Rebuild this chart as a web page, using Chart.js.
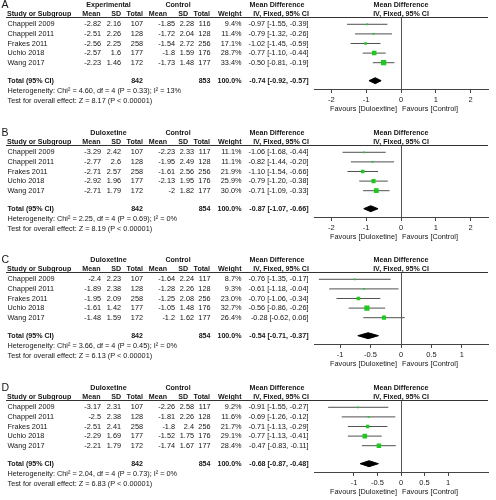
<!DOCTYPE html>
<html><head><meta charset="utf-8">
<script src="https://cdn.jsdelivr.net/npm/chart.js@4.4.1/dist/chart.umd.min.js"></script>
<style>
html,body{margin:0;padding:0;background:#fff;width:496px;height:500px;overflow:hidden;}
canvas{position:absolute;left:0;}
</style></head><body>
<canvas id="cA" width="496" height="117" style="top:0px"></canvas>
<canvas id="cB" width="496" height="117" style="top:128px"></canvas>
<canvas id="cC" width="496" height="117" style="top:255px"></canvas>
<canvas id="cD" width="496" height="117" style="top:383px"></canvas>
<script>
// ---------- DATA ----------
const studies = ['Chappell 2009','Chappell 2011','Frakes 2011','Uchio 2018','Wang 2017'];
const ticksAB = [-2,-1,0,1,2];
const ticksCD = [-1,-0.5,0,0.5,1];

// Panel A
const aExpMean = [-2.82,-2.51,-2.56,-2.57,-2.23];
const aExpSD   = [2.16,2.26,2.25,1.6,1.46];
const aExpN    = [107,128,258,177,172];
const aCtlMean = [-1.85,-1.72,-1.54,-1.8,-1.73];
const aCtlSD   = [2.28,2.04,2.72,1.59,1.48];
const aCtlN    = [116,128,256,176,177];
const aWeight  = [9.4,11.4,17.1,28.7,33.4];
const aMD      = [-0.97,-0.79,-1.02,-0.77,-0.50];
const aLo      = [-1.55,-1.32,-1.45,-1.10,-0.81];
const aHi      = [-0.39,-0.26,-0.59,-0.44,-0.19];
const aTotal   = [842,853,-0.74,-0.92,-0.57];
const aHet     = ['4.60','4','0.33','13'];
const aZ       = ['8.17','0.00001'];

// Panel B
const bExpMean = [-3.29,-2.77,-2.71,-2.92,-2.71];
const bExpSD   = [2.42,2.6,2.57,1.96,1.79];
const bExpN    = [107,128,258,177,172];
const bCtlMean = [-2.23,-1.95,-1.61,-2.13,-2];
const bCtlSD   = [2.33,2.49,2.56,1.95,1.82];
const bCtlN    = [117,128,256,176,177];
const bWeight  = [11.1,11.1,21.9,25.9,30.0];
const bMD      = [-1.06,-0.82,-1.10,-0.79,-0.71];
const bLo      = [-1.68,-1.44,-1.54,-1.20,-1.09];
const bHi      = [-0.44,-0.20,-0.66,-0.38,-0.33];
const bTotal   = [842,854,-0.87,-1.07,-0.66];
const bHet     = ['2.25','4','0.69','0'];
const bZ       = ['8.19','0.00001'];

// Panel C
const cExpMean = [-2.4,-1.89,-1.95,-1.61,-1.48];
const cExpSD   = [2.23,2.38,2.09,1.42,1.59];
const cExpN    = [107,128,258,177,172];
const cCtlMean = [-1.64,-1.28,-1.25,-1.05,-1.2];
const cCtlSD   = [2.24,2.26,2.08,1.48,1.62];
const cCtlN    = [117,128,256,176,177];
const cWeight  = [8.7,9.3,23.0,32.7,26.4];
const cMD      = [-0.76,-0.61,-0.70,-0.56,-0.28];
const cLo      = [-1.35,-1.18,-1.06,-0.86,-0.62];
const cHi      = [-0.17,-0.04,-0.34,-0.26,0.06];
const cTotal   = [842,854,-0.54,-0.71,-0.37];
const cHet     = ['3.66','4','0.45','0'];
const cZ       = ['6.13','0.00001'];

// Panel D
const dExpMean = [-3.17,-2.5,-2.51,-2.29,-2.21];
const dExpSD   = [2.31,2.38,2.41,1.69,1.79];
const dExpN    = [107,128,258,177,172];
const dCtlMean = [-2.26,-1.81,-1.8,-1.52,-1.74];
const dCtlSD   = [2.58,2.26,2.4,1.75,1.67];
const dCtlN    = [117,128,256,176,177];
const dWeight  = [9.2,11.6,21.7,29.1,28.4];
const dMD      = [-0.91,-0.69,-0.71,-0.77,-0.47];
const dLo      = [-1.55,-1.26,-1.13,-1.13,-0.83];
const dHi      = [-0.27,-0.12,-0.29,-0.41,-0.11];
const dTotal   = [842,854,-0.68,-0.87,-0.48];
const dHet     = ['2.04','4','0.73','0'];
const dZ       = ['6.83','0.00001'];

// ---------- RENDER ----------
const FONT = '"Liberation Sans", Arial, Helvetica, sans-serif';
const GREEN = '#1fc81f';
const TOTAL_ROW = 5.875;

function txt(ctx, s, x, y, align, bold, size) {
  ctx.font = (bold ? 'bold ' : '') + (size || (bold ? 7.1 : 7.3)) + 'px ' + FONT;
  ctx.textAlign = align; ctx.textBaseline = 'middle'; ctx.fillStyle = '#151515';
  ctx.fillText(s, x, y);
}
const f2 = v => v.toFixed(2);
const ciText = (m, l, h) => f2(m) + ' [' + f2(l) + ', ' + f2(h) + ']';

function makeTablePlugin(p) {
  return {
    id: 'table' + p.letter,
    afterDraw(chart) {
      const ctx = chart.ctx, ys = chart.scales.y, xs = chart.scales.x;
      ctx.save();
      txt(ctx, p.letter, 1.5, 5.5, 'left', false, 10.5);
      const h1 = 5, h2 = 14;
      txt(ctx, p.group, 108.5, h1, 'center', true);
      txt(ctx, 'Control', 178, h1, 'center', true);
      txt(ctx, 'Mean Difference', 277, h1, 'center', true);
      txt(ctx, 'Mean Difference', 401, h1, 'center', true);
      txt(ctx, 'Study or Subgroup', 7, h2, 'left', true);
      txt(ctx, 'Mean', 100.5, h2, 'right', true);
      txt(ctx, 'SD', 121, h2, 'right', true);
      txt(ctx, 'Total', 143, h2, 'right', true);
      txt(ctx, 'Mean', 167, h2, 'right', true);
      txt(ctx, 'SD', 188, h2, 'right', true);
      txt(ctx, 'Total', 210, h2, 'right', true);
      txt(ctx, 'Weight', 241.5, h2, 'right', true);
      txt(ctx, 'IV, Fixed, 95% CI', 281, h2, 'center', true);
      txt(ctx, 'IV, Fixed, 95% CI', 401, h2, 'center', true);
      ctx.strokeStyle = '#333'; ctx.lineWidth = 1;
      ctx.beginPath(); ctx.moveTo(6, 17.5); ctx.lineTo(488, 17.5); ctx.stroke();
      studies.forEach((s, i) => {
        const y = ys.getPixelForValue(i);
        txt(ctx, s, 7.5, y, 'left', false);
        txt(ctx, String(p.expMean[i]), 101, y, 'right', false);
        txt(ctx, String(p.expSD[i]), 121, y, 'right', false);
        txt(ctx, String(p.expN[i]), 143, y, 'right', false);
        txt(ctx, String(p.ctlMean[i]), 175, y, 'right', false);
        txt(ctx, String(p.ctlSD[i]), 194, y, 'right', false);
        txt(ctx, String(p.ctlN[i]), 210.5, y, 'right', false);
        txt(ctx, p.weight[i].toFixed(1) + '%', 241.5, y, 'right', false);
        txt(ctx, ciText(p.md[i], p.lo[i], p.hi[i]), 308.5, y, 'right', false);
      });
      const ty = ys.getPixelForValue(TOTAL_ROW);
      txt(ctx, 'Total (95% CI)', 7.5, ty, 'left', true);
      txt(ctx, String(p.total[0]), 143, ty, 'right', true);
      txt(ctx, String(p.total[1]), 210.5, ty, 'right', true);
      txt(ctx, '100.0%', 241.5, ty, 'right', true);
      txt(ctx, ciText(p.total[2], p.total[3], p.total[4]), 308.5, ty, 'right', true);
      txt(ctx, 'Heterogeneity: Chi\u00b2 = ' + p.het[0] + ', df = ' + p.het[1] + ' (P = ' + p.het[2] + '); I\u00b2 = ' + p.het[3] + '%', 7.5, 91.3, 'left', false);
      txt(ctx, 'Test for overall effect: Z = ' + p.z[0] + ' (P < ' + p.z[1] + ')', 7.5, 100.7, 'left', false);
      const x0 = xs.getPixelForValue(0);
      txt(ctx, p.favLeft, x0 - 4, 109, 'right', false);
      txt(ctx, 'Favours [Control]', x0 + 1, 109, 'left', false);
      ctx.restore();
    }
  };
}

function buildPanel(id, p) {
  const datasets = [];
  datasets.push({
    data: p.md.map((m, i) => ({ x: m, y: i })),
    pointStyle: 'rect',
    pointRadius: c => Math.max(1.7, p.weight[c.dataIndex] * 0.158) / 1.414,
    backgroundColor: GREEN, borderWidth: 0, order: 0
  });
  const T = TOTAL_ROW, dh = 0.31;
  datasets.push({
    data: [{x:p.total[3],y:T},{x:p.total[2],y:T-dh},{x:p.total[4],y:T},{x:p.total[2],y:T+dh},{x:p.total[3],y:T}],
    showLine: true, fill: 'shape', backgroundColor: '#000', borderColor: '#000',
    borderWidth: 1, pointRadius: 0, tension: 0, order: 0
  });
  p.md.forEach((m, i) => {
    datasets.push({
      data: [{ x: p.lo[i], y: i }, { x: p.hi[i], y: i }],
      showLine: true, borderColor: '#505050', borderWidth: 1, pointRadius: 0, order: 2
    });
  });
  new Chart(document.getElementById(id), {
    type: 'scatter',
    data: { datasets },
    options: {
      responsive: false, animation: false, maintainAspectRatio: false,
      layout: { padding: { left: 314, right: 8, top: 17.5, bottom: 0 } },
      plugins: { legend: { display: false }, tooltip: { enabled: false } },
      scales: {
        x: {
          type: 'linear', min: p.min, max: p.max,
          afterBuildTicks: s => { s.ticks = p.ticks.map(v => ({ value: v })); },
          afterFit: s => { s.height = 28; },
          grid: {
            color: c => (c.tick && c.tick.value === 0) ? '#555555' : 'rgba(0,0,0,0)',
            tickColor: '#444', tickLength: 4, lineWidth: 1
          },
          border: { display: true, color: '#444', width: 1 },
          ticks: { font: { family: FONT, size: 7.5 }, color: '#1a1a1a', padding: 2, maxRotation: 0, callback: v => String(v) }
        },
        y: { type: 'linear', reverse: true, min: -0.708, max: 6.74, display: false }
      }
    },
    plugins: [makeTablePlugin(p)]
  });
}

buildPanel('cA', { letter:'A', group:'Experimental', favLeft:'Favours [Duloextine]',
  expMean:aExpMean, expSD:aExpSD, expN:aExpN, ctlMean:aCtlMean, ctlSD:aCtlSD, ctlN:aCtlN,
  weight:aWeight, md:aMD, lo:aLo, hi:aHi, total:aTotal, het:aHet, z:aZ, ticks:ticksAB, min:-2.5, max:2.5 });
buildPanel('cB', { letter:'B', group:'Duloxetine', favLeft:'Favours [Duloxetine]',
  expMean:bExpMean, expSD:bExpSD, expN:bExpN, ctlMean:bCtlMean, ctlSD:bCtlSD, ctlN:bCtlN,
  weight:bWeight, md:bMD, lo:bLo, hi:bHi, total:bTotal, het:bHet, z:bZ, ticks:ticksAB, min:-2.5, max:2.5 });
buildPanel('cC', { letter:'C', group:'Duloxetine', favLeft:'Favours [Duloxetine]',
  expMean:cExpMean, expSD:cExpSD, expN:cExpN, ctlMean:cCtlMean, ctlSD:cCtlSD, ctlN:cCtlN,
  weight:cWeight, md:cMD, lo:cLo, hi:cHi, total:cTotal, het:cHet, z:cZ, ticks:ticksCD, min:-1.43, max:1.43 });
buildPanel('cD', { letter:'D', group:'Duloxetine', favLeft:'Favours [Duloxetine]',
  expMean:dExpMean, expSD:dExpSD, expN:dExpN, ctlMean:dCtlMean, ctlSD:dCtlSD, ctlN:dCtlN,
  weight:dWeight, md:dMD, lo:dLo, hi:dHi, total:dTotal, het:dHet, z:dZ, ticks:ticksCD, min:-1.85, max:1.85 });
</script>
</body></html>
